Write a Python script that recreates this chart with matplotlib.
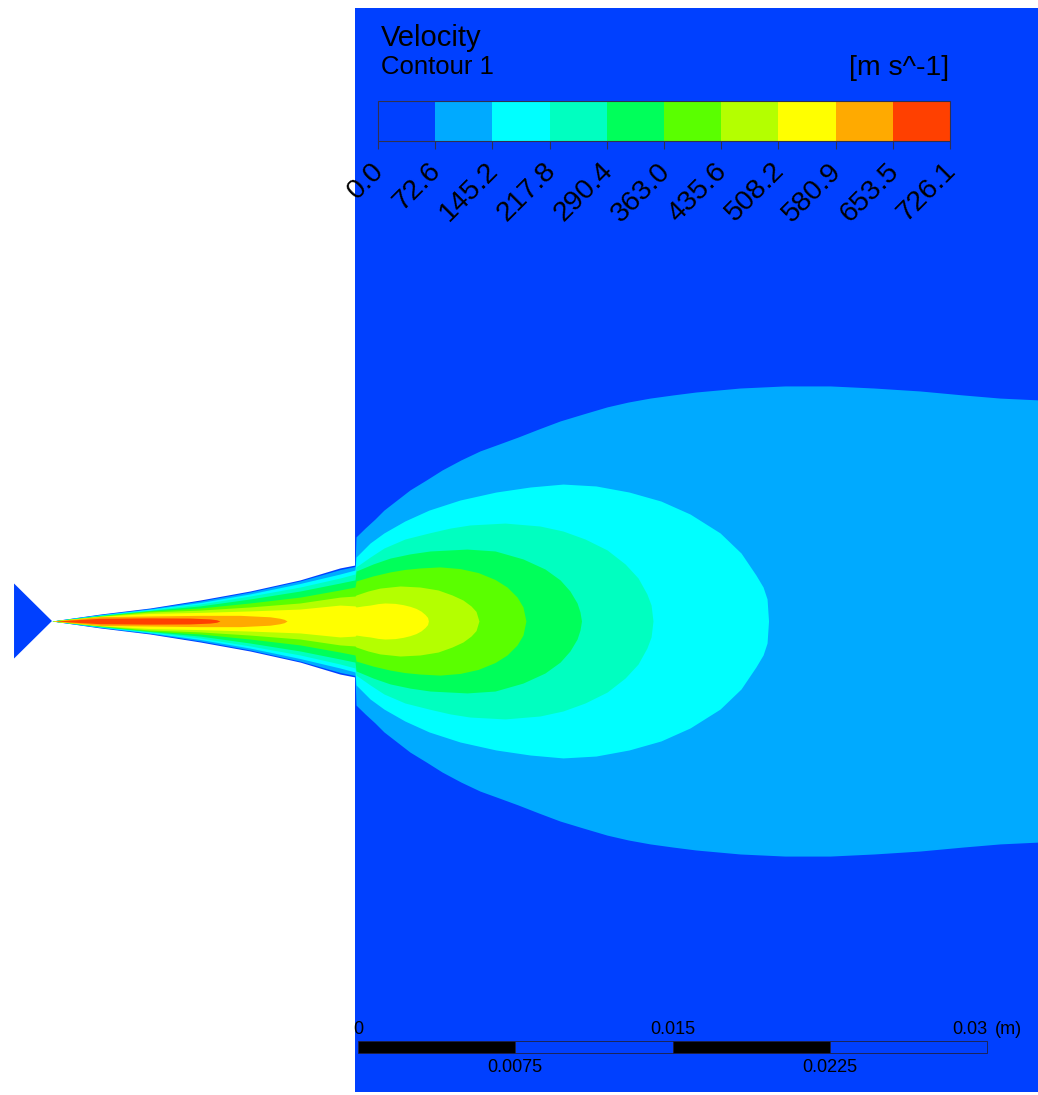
import numpy as np
import matplotlib
matplotlib.use("Agg")
import matplotlib.pyplot as plt
from matplotlib.colors import ListedColormap, BoundaryNorm
from matplotlib.cm import ScalarMappable
from matplotlib.patches import Rectangle, Polygon
from matplotlib.transforms import offset_copy

plt.rcParams["font.family"] = ["Liberation Sans", "DejaVu Sans"]

# velocity levels [m s^-1] and band colours
LEVELS = [0.0, 72.6, 145.2, 217.8, 290.4, 363.0, 435.6, 508.2, 580.9, 653.5, 726.1]
COLORS = ["#0040FF", "#00AAFF", "#00FFFF", "#00FFC0", "#00FF5A",
          "#5AFF00", "#B4FF00", "#FFFF00", "#FFAA00", "#FF4000"]

# geometry in mm (x from nozzle exit, r from jet axis)
NOZZLE_X = [-14.45, -12.16, -9.78, -7.39, -5.01, -2.62, -0.72, 0.00]
WALL_R = [0.00, 0.33, 0.62, 1.00, 1.43, 1.96, 2.53, 2.67]
INLET_X = [-16.26, -16.26, -14.45]
INLET_Y = [1.79, -1.79, 0.00]
CHAMBER_X = [0.0, 33.0]
CHAMBER_Y = [-22.46, 29.23]

# contour half-widths inside the nozzle (on NOZZLE_X)
N1_R = [0.00, 0.31, 0.59, 0.95, 1.38, 1.91, 2.45, 2.60]
N2_R = [0.00, 0.29, 0.56, 0.88, 1.29, 1.79, 2.24, 2.43]
N3_R = [0.00, 0.27, 0.52, 0.81, 1.19, 1.62, 2.05, 2.24]
N4_R = [0.00, 0.26, 0.50, 0.72, 1.05, 1.43, 1.81, 1.96]
N5_R = [0.00, 0.24, 0.48, 0.62, 0.86, 1.14, 1.48, 1.62]
N6_R = [0.00, 0.23, 0.43, 0.52, 0.67, 0.86, 1.14, 1.19]
N7_R = [0.00, 0.22, 0.36, 0.41, 0.48, 0.57, 0.76, 0.72]

# contour half-widths in the chamber
C1_X = [0.05, 0.48, 0.95, 1.38, 2.00, 2.62, 3.39, 4.15, 5.05, 5.96, 6.87, 7.77,
        8.77, 9.78, 10.87, 12.02, 13.02, 14.07, 15.16, 16.26, 18.36, 20.51,
        22.65, 24.75, 26.94, 28.99, 30.76, 32.67]
C1_R = [4.01, 4.43, 4.86, 5.29, 5.77, 6.25, 6.72, 7.20, 7.68, 8.11, 8.44, 8.77,
        9.16, 9.54, 9.87, 10.21, 10.44, 10.63, 10.78, 10.92, 11.11, 11.21,
        11.21, 11.11, 10.97, 10.78, 10.63, 10.54]
C2_X = [0.05, 0.72, 1.38, 2.38, 3.53, 5.01, 6.72, 8.35, 9.92, 11.49, 13.07,
        14.59, 15.98, 17.41, 18.41, 19.12, 19.46, 19.65, 19.72]
C2_R = [3.05, 3.72, 4.20, 4.77, 5.29, 5.77, 6.15, 6.39, 6.53, 6.44, 6.15,
        5.72, 5.10, 4.20, 3.24, 2.19, 1.62, 1.05, 0.00]
C3_X = [0.05, 0.72, 1.38, 2.38, 3.53, 4.53, 5.48, 7.15, 8.82, 9.92, 10.97,
        12.02, 12.88, 13.50, 13.92, 14.12, 14.21]
C3_R = [2.58, 3.05, 3.48, 3.91, 4.20, 4.43, 4.58, 4.67, 4.53, 4.29, 3.91,
        3.39, 2.72, 2.05, 1.29, 0.76, 0.00]
C4_X = [0.05, 0.86, 1.67, 2.62, 3.58, 5.34, 6.68, 8.01, 9.06, 9.78, 10.25,
        10.59, 10.73, 10.80]
C4_R = [2.38, 2.72, 3.00, 3.20, 3.34, 3.43, 3.34, 2.96, 2.48, 1.96, 1.43,
        0.86, 0.43, 0.00]
C5_X = [0.05, 0.86, 1.67, 2.38, 3.10, 4.05, 5.01, 5.87, 6.68, 7.25, 7.73,
        8.01, 8.15]
C5_R = [1.91, 2.15, 2.34, 2.46, 2.53, 2.58, 2.50, 2.31, 1.98, 1.62, 1.14,
        0.67, 0.00]
C6_X = [0.05, 0.62, 1.19, 2.15, 3.10, 3.96, 4.63, 5.15, 5.53, 5.77, 5.91]
C6_R = [1.24, 1.43, 1.57, 1.67, 1.62, 1.48, 1.24, 1.00, 0.72, 0.46, 0.00]
C7_X = [0.05, 0.38, 0.72, 1.10, 1.43, 1.91, 2.29, 2.62, 2.91, 3.15, 3.34,
        3.46, 3.50]
C7_R = [0.67, 0.72, 0.76, 0.83, 0.86, 0.84, 0.78, 0.70, 0.60, 0.47, 0.31,
        0.17, 0.00]

# high-speed cores inside the nozzle
C8_X = [-14.35, -12.16, -9.78, -7.39, -5.48, -4.05, -3.58, -3.38, -3.24]
C8_R = [0.00, 0.21, 0.24, 0.27, 0.27, 0.20, 0.13, 0.08, 0.00]
C9_X = [-14.31, -12.16, -9.78, -7.87, -6.91, -6.60, -6.44]
C9_R = [0.00, 0.13, 0.15, 0.14, 0.10, 0.06, 0.00]

SCALE_TICKS_M = [0.0, 0.0075, 0.015, 0.0225, 0.03]

PX_PER_MM = 20.97
W, H = 1038, 1095
X0, Y0 = 355, 621  # nozzle exit / axis in pixels

fig = plt.figure(figsize=(W / 100, H / 100), dpi=100)
ax = fig.add_axes([0, 0, 1, 1])
ax.set_xlim(-X0 / PX_PER_MM, (W - X0) / PX_PER_MM)
ax.set_ylim(-(H - Y0) / PX_PER_MM, Y0 / PX_PER_MM)
ax.axis("off")

bg = COLORS[0]
ax.add_patch(Rectangle((CHAMBER_X[0], CHAMBER_Y[0]), CHAMBER_X[1] - CHAMBER_X[0],
                       CHAMBER_Y[1] - CHAMBER_Y[0], facecolor=bg, lw=0, zorder=1))
ax.fill_between(NOZZLE_X, -np.array(WALL_R), WALL_R, color=bg, lw=0, zorder=1)
ax.add_patch(Polygon(np.column_stack([INLET_X, INLET_Y]), closed=True,
                     facecolor=bg, lw=0, zorder=1))

bands = [
    (NOZZLE_X + C1_X, N1_R + C1_R),
    (NOZZLE_X + C2_X, N2_R + C2_R),
    (NOZZLE_X + C3_X, N3_R + C3_R),
    (NOZZLE_X + C4_X, N4_R + C4_R),
    (NOZZLE_X + C5_X, N5_R + C5_R),
    (NOZZLE_X + C6_X, N6_R + C6_R),
    (NOZZLE_X + C7_X, N7_R + C7_R),
    (C8_X, C8_R),
    (C9_X, C9_R),
]
for k, (bx, br) in enumerate(bands, start=1):
    br = np.array(br)
    ax.fill_between(bx, -br, br, color=COLORS[k], lw=0, zorder=k + 2)

# legend text
fig.text(381 / W, 1 - 46 / H, "Velocity", fontsize=21, va="baseline")
fig.text(381 / W, 1 - 74 / H, "Contour 1", fontsize=18.5, va="baseline")
fig.text(949 / W, 1 - 75 / H, "[m s^-1]", fontsize=20.5, va="baseline", ha="right")

# colour bar
cax = fig.add_axes([378 / W, 1 - 141 / H, 572 / W, 40 / H])
cmap = ListedColormap(COLORS)
norm = BoundaryNorm(LEVELS, cmap.N)
cb = fig.colorbar(ScalarMappable(norm=norm, cmap=cmap), cax=cax,
                  orientation="horizontal")
cb.set_ticks(LEVELS, labels=[""] * len(LEVELS))
cb.outline.set_edgecolor("#303050")
cb.outline.set_linewidth(0.8)
cax.tick_params(axis="x", length=6, width=0.8, color="#303050")
lab_tr = offset_copy(cax.get_xaxis_transform(), fig=fig, x=2, y=-26, units="dots")
for v in LEVELS:
    cax.text(v, 0, f"{v:.1f}", transform=lab_tr, rotation=45,
             rotation_mode="anchor", ha="right", va="center", fontsize=20.5,
             clip_on=False)

# length scale
sx = [0.143 + 1000 * v for v in SCALE_TICKS_M]
y_lo, y_hi = -20.60, -20.03
for i in range(4):
    ax.add_patch(Rectangle((sx[i], y_lo), sx[i + 1] - sx[i], y_hi - y_lo,
                           facecolor="black" if i % 2 == 0 else bg,
                           edgecolor="#202040", lw=0.6, zorder=20))
fs = 13
ax.text(sx[0], -19.46, "0", ha="center", va="center", fontsize=fs, zorder=21)
ax.text(sx[2], -19.46, "0.015", ha="center", va="center", fontsize=fs, zorder=21)
ax.text(sx[4], -19.46, "0.03", ha="right", va="center", fontsize=fs, zorder=21)
ax.text(sx[4] + 0.35, -19.46, "(m)", ha="left", va="center", fontsize=fs, zorder=21)
ax.text(sx[1], -21.27, "0.0075", ha="center", va="center", fontsize=fs, zorder=21)
ax.text(sx[3], -21.27, "0.0225", ha="center", va="center", fontsize=fs, zorder=21)

fig.savefig("out.png", dpi=100, facecolor="white")
